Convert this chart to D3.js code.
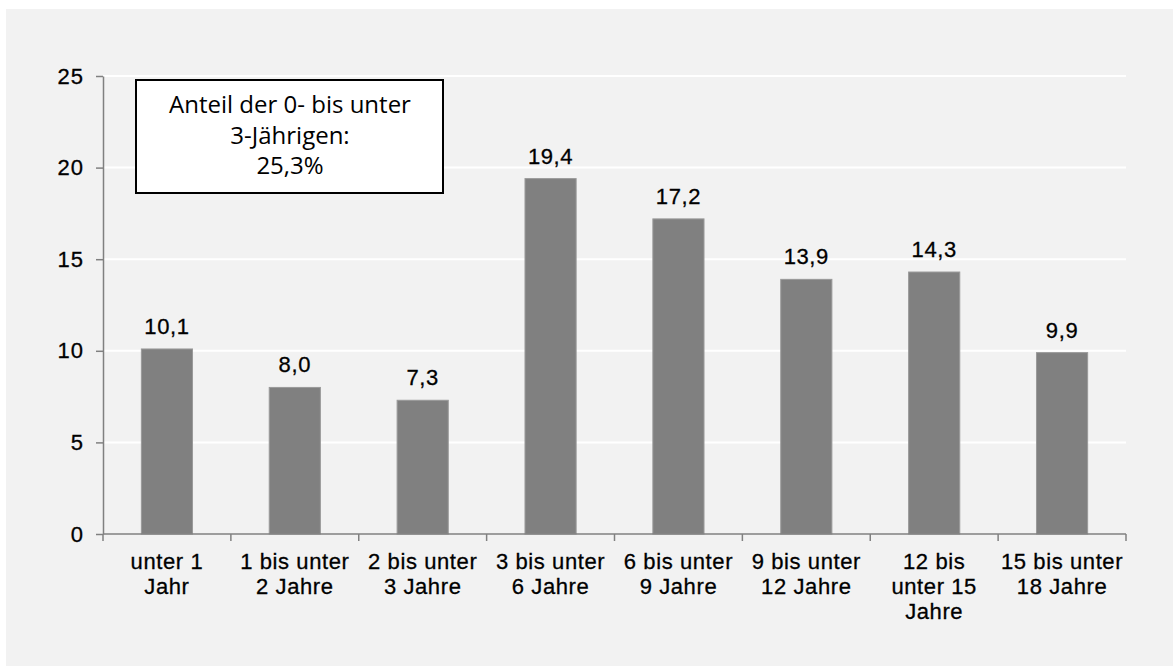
<html>
<head>
<title>Altersgruppen</title>
<script src="https://d3js.org/d3.v7.min.js"></script>
<style>
  body { margin: 0; background: white; }
  text { font-family: "Liberation Sans", Arial, sans-serif; fill: #000; stroke: #000; stroke-width: 0.3px; }
  .note text { font-family: "Open Sans", sans-serif; stroke: none; }
</style>
</head>
<body>
<svg id="chart" width="1173" height="666"></svg>
<script>
// data
var categories = [
  ["unter 1", "Jahr"],
  ["1 bis unter", "2 Jahre"],
  ["2 bis unter", "3 Jahre"],
  ["3 bis unter", "6 Jahre"],
  ["6 bis unter", "9 Jahre"],
  ["9 bis unter", "12 Jahre"],
  ["12 bis", "unter 15", "Jahre"],
  ["15 bis unter", "18 Jahre"]
];
var values = [10.1, 8.0, 7.3, 19.4, 17.2, 13.9, 14.3, 9.9];
var yTicks = [0, 5, 10, 15, 20, 25];
var noteLines = ["Anteil der 0- bis unter", "3-Jährigen:", "25,3%"];

var svg = d3.select("#chart");

// grey panel
svg.append("rect")
  .attr("x", 6).attr("y", 9)
  .attr("width", 1167).attr("height", 657)
  .attr("fill", "#f2f2f2");

var x = d3.scaleBand()
  .domain(d3.range(categories.length))
  .range([103, 1126])
  .paddingInner(0.6)
  .paddingOuter(0.3);

var y = d3.scaleLinear().domain([0, 25]).range([534, 76]);

var fmt = function(v) { return d3.format(".1f")(v).replace(".", ","); };

// gridlines
svg.append("g").selectAll("line")
  .data(yTicks.filter(function(d) { return d > 0; }))
  .enter().append("line")
  .attr("x1", 103).attr("x2", 1126)
  .attr("y1", function(d) { return y(d); })
  .attr("y2", function(d) { return y(d); })
  .attr("stroke", "#ffffff")
  .attr("stroke-width", 2);

// bars
svg.append("g").selectAll("rect")
  .data(values)
  .enter().append("rect")
  .attr("x", function(d, i) { return x(i); })
  .attr("y", function(d) { return y(d); })
  .attr("width", x.bandwidth())
  .attr("height", function(d) { return y(0) - y(d); })
  .attr("fill", "#808080")
  .attr("stroke", "#9a9a9a")
  .attr("stroke-width", 1);

// value labels
svg.append("g").selectAll("text")
  .data(values)
  .enter().append("text")
  .attr("x", function(d, i) { return x(i) + x.bandwidth() / 2; })
  .attr("y", function(d) { return y(d) - 15; })
  .attr("text-anchor", "middle")
  .style("font-size", "22px")
  .style("letter-spacing", "0.6px")
  .text(function(d) { return fmt(d); });

// y axis
var yAxis = svg.append("g")
  .attr("transform", "translate(103,0)")
  .call(d3.axisLeft(y).tickValues(yTicks).tickSize(7).tickPadding(12).tickSizeOuter(0));
yAxis.select(".domain").attr("stroke", "#808080").attr("stroke-width", 1.5);
yAxis.selectAll(".tick line").attr("stroke", "#808080").attr("stroke-width", 1.5);
yAxis.selectAll(".tick text")
  .style("font-size", "22px")
  .style("letter-spacing", "1px")
  .attr("fill", "#000")
  .attr("font-family", null);

// x axis line and boundary ticks
var step = x.step();
var bounds = d3.range(categories.length + 1).map(function(i) {
  return x(0) - step * 0.3 + i * step;
});
var xAxis = svg.append("g");
xAxis.append("line")
  .attr("x1", 103).attr("x2", 1126)
  .attr("y1", y(0)).attr("y2", y(0))
  .attr("stroke", "#808080").attr("stroke-width", 1.5);
xAxis.selectAll("line.tk")
  .data(bounds)
  .enter().append("line")
  .attr("class", "tk")
  .attr("x1", function(d) { return d; })
  .attr("x2", function(d) { return d; })
  .attr("y1", y(0)).attr("y2", y(0) + 7)
  .attr("stroke", "#808080").attr("stroke-width", 1.5);

// category labels
var cat = svg.append("g").selectAll("text")
  .data(categories)
  .enter().append("text")
  .attr("text-anchor", "middle")
  .style("font-size", "22px")
  .style("letter-spacing", "0.6px");
cat.selectAll("tspan")
  .data(function(d, i) { return d.map(function(s) { return { s: s, i: i }; }); })
  .enter().append("tspan")
  .attr("x", function(d) { return x(d.i) + x.bandwidth() / 2; })
  .attr("y", function(d, j) { return 569 + j * 25; })
  .text(function(d) { return d.s; });

// note box
var note = svg.append("g").attr("class", "note");
note.append("rect")
  .attr("x", 136).attr("y", 80)
  .attr("width", 307).attr("height", 113)
  .attr("fill", "#ffffff")
  .attr("stroke", "#000")
  .attr("stroke-width", 2);
note.selectAll("text")
  .data(noteLines)
  .enter().append("text")
  .attr("x", 290)
  .attr("y", function(d, i) { return 113 + i * 30.5; })
  .attr("text-anchor", "middle")
  .style("font-size", "24px")
  .text(function(d) { return d; });
</script>
</body>
</html>
